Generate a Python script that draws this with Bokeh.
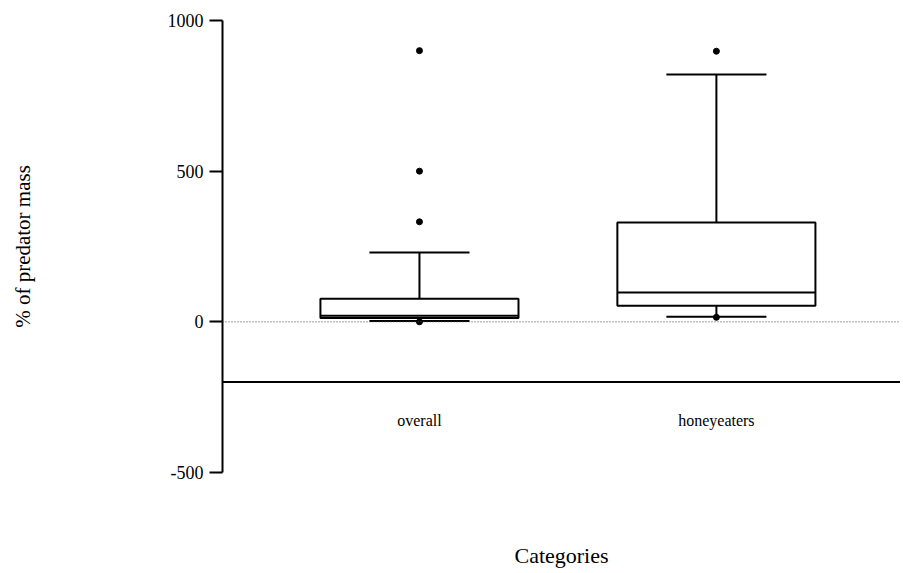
from bokeh.plotting import figure
from bokeh.models import Range1d, FixedTicker, Span, ColumnDataSource
from bokeh.core.properties import value
from bokeh.embed import file_html
from bokeh.resources import INLINE

# ---- data ----
categories = ["overall", "honeyeaters"]
q1 = [13, 53]
median = [20, 97]
q3 = [77, 330]
whisker_low = [3, 17]
whisker_high = [230, 821]
outlier_cat = ["overall", "overall", "overall", "overall", "honeyeaters", "honeyeaters"]
outlier_val = [900, 500, 332, 0, 898, 15]
y_ticks = [-500, 0, 500, 1000]
y_tick_labels = {-500: "-500", 0: "0", 500: "500", 1000: "1000"}
x_axis_at = -200
label_y = -326

FONT = "Liberation Serif"
BOX_W = 0.667
CAP_W = 0.337

pos = {c: i + 1 for i, c in enumerate(categories)}
xs = [pos[c] for c in categories]

box_src = ColumnDataSource(dict(
    x=xs, q1=q1, q3=q3, med=median, lo=whisker_low, hi=whisker_high,
    bl=[x - BOX_W / 2 for x in xs], br=[x + BOX_W / 2 for x in xs],
    cl=[x - CAP_W / 2 for x in xs], cr=[x + CAP_W / 2 for x in xs],
    cat=categories, ly=[label_y] * len(xs),
))
out_src = ColumnDataSource(dict(x=[pos[c] for c in outlier_cat], y=outlier_val))

p = figure(width=900, height=570, output_backend="svg", toolbar_location=None,
           x_range=Range1d(0.3367, 2.62), y_range=Range1d(-500, 1000),
           min_border_left=222, min_border_top=20, min_border_bottom=88,
           min_border_right=0)
p.outline_line_color = None
p.grid.visible = False
p.background_fill_color = "white"

# zero dotted line and x axis line at -200
p.add_layout(Span(location=0, dimension="width", line_color="#444444",
                  line_width=1, line_dash="1 2"))
p.add_layout(Span(location=x_axis_at, dimension="width", line_color="black",
                  line_width=2))

# whiskers
p.segment(x0="x", y0="q3", x1="x", y1="hi", source=box_src, line_color="black", line_width=2)
p.segment(x0="x", y0="q1", x1="x", y1="lo", source=box_src, line_color="black", line_width=2)
p.segment(x0="cl", y0="hi", x1="cr", y1="hi", source=box_src, line_color="black", line_width=2)
p.segment(x0="cl", y0="lo", x1="cr", y1="lo", source=box_src, line_color="black", line_width=2)
# boxes
p.quad(left="bl", right="br", bottom="q1", top="q3", source=box_src,
       fill_color="white", line_color="black", line_width=2)
p.segment(x0="bl", y0="med", x1="br", y1="med", source=box_src, line_color="black", line_width=2)
# outliers
p.scatter(x="x", y="y", source=out_src, size=6, color="black")

# category labels
p.text(x="x", y="ly", text="cat", source=box_src, text_align="center",
       text_baseline="middle", text_font=value(FONT), text_font_size="16px",
       text_color="black")

# y axis
ya = p.yaxis[0]
ya.ticker = FixedTicker(ticks=y_ticks)
ya.major_label_overrides = y_tick_labels
ya.axis_line_width = 2
ya.major_tick_line_width = 2
ya.major_tick_out = 13
ya.major_tick_in = 0
ya.minor_tick_line_color = None
ya.major_label_standoff = 6
ya.major_label_text_font = FONT
ya.major_label_text_font_size = "18px"
ya.major_label_text_color = "black"
ya.axis_label = "% of predator mass"
ya.axis_label_text_font = FONT
ya.axis_label_text_font_size = "21px"
ya.axis_label_text_font_style = "normal"
ya.axis_label_text_color = "black"
ya.axis_label_standoff = 130

# x axis: only title
xa = p.xaxis[0]
xa.ticker = FixedTicker(ticks=[])
xa.axis_line_color = None
xa.major_tick_line_color = None
xa.minor_tick_line_color = None
xa.axis_label = "Categories"
xa.axis_label_text_font = FONT
xa.axis_label_text_font_size = "22px"
xa.axis_label_text_font_style = "normal"
xa.axis_label_text_color = "black"
xa.axis_label_standoff = 70

open("out.html", "w").write(file_html(p, INLINE))
